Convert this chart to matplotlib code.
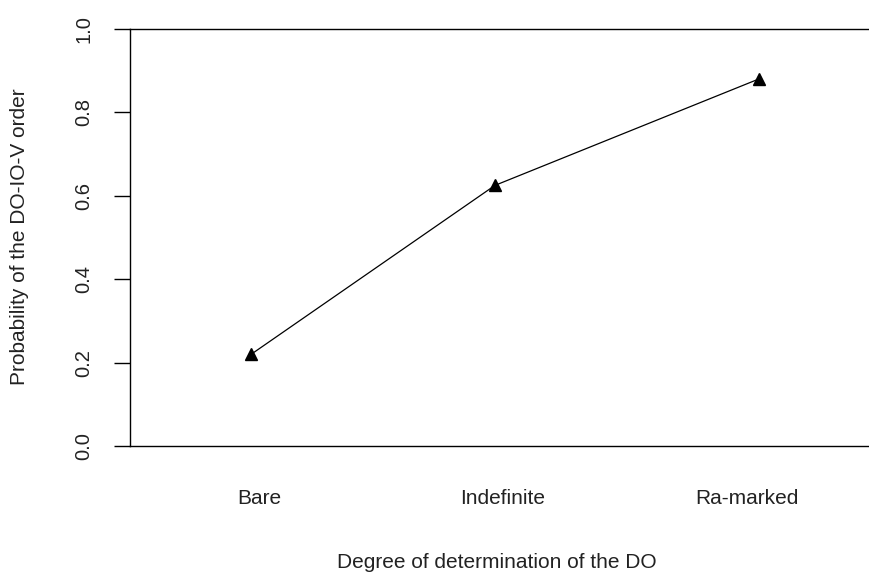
import matplotlib.pyplot as plt

# данные
categories = ['Bare', 'Indefinite', 'Ra-marked']
cat_pos = [1, 2, 3]
point_x = [0.966, 1.967, 3.05]
prob = [0.22, 0.625, 0.88]
y_ticks = [0.0, 0.2, 0.4, 0.6, 0.8, 1.0]

plt.rcParams['font.family'] = ['Liberation Sans', 'DejaVu Sans']

fig = plt.figure(figsize=(8.7, 5.72), dpi=100)
ax = fig.add_axes([130 / 870, 126 / 572, 1 - 130 / 870, 417 / 572])

ax.plot(point_x, prob, color='black', lw=0.9, marker='^', ms=9,
        markerfacecolor='black', markeredgecolor='black')

ax.set_xlim(0.4683, 3.507)
ax.set_ylim(0, 1)
ax.set_xticks(cat_pos)
ax.set_xticklabels(categories, fontsize=15, color='#222222')
ax.tick_params(axis='x', length=0, pad=31)
ax.set_yticks(y_ticks)
ax.set_yticklabels([f'{v:.1f}' for v in y_ticks], fontsize=14.5,
                   rotation=90, va='center', color='#222222')
ax.tick_params(axis='y', length=11.5, width=1.0, pad=15)

ax.spines['right'].set_visible(False)
for s in ['left', 'top', 'bottom']:
    ax.spines[s].set_linewidth(1.0)

fig.text(497 / 870, 1 - 563 / 572, 'Degree of determination of the DO',
         fontsize=15, ha='center', va='center', color='#222222')
fig.text(20 / 870, 1 - 237 / 572, 'Probability of the DO-IO-V order',
         fontsize=15, ha='center', va='center', rotation=90, color='#222222')

plt.savefig('out.png', dpi=100)
